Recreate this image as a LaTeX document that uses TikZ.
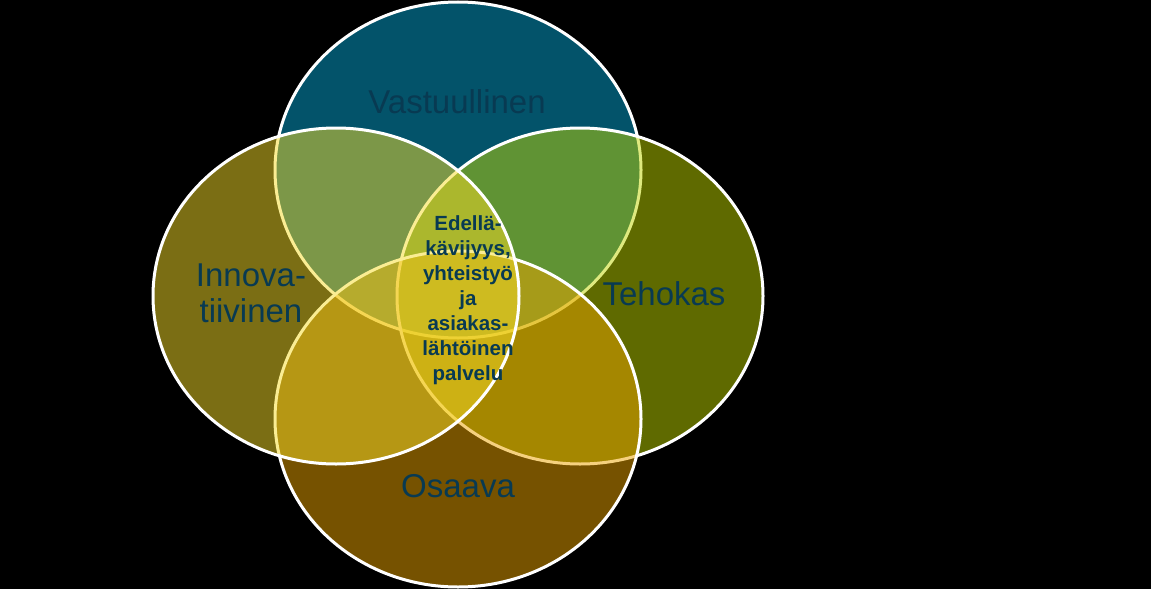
\documentclass[tikz,border=0pt]{standalone}
\usepackage{fontspec}
\setmainfont{Liberation Sans}
\usetikzlibrary{positioning,shapes.geometric}

\definecolor{topblue}{RGB}{6,166,212}
\definecolor{rightgreen}{RGB}{190,212,0}
\definecolor{bottomgold}{RGB}{236,164,0}
\definecolor{leftyellow}{RGB}{246,220,40}
\definecolor{txtblue}{RGB}{8,58,82}

\begin{document}
\begin{tikzpicture}[
    x=1pt, y=-1pt,
    ring/.style={ellipse, draw=white, line width=3pt, fill opacity=0.5, minimum width=366pt, minimum height=336pt, inner sep=0pt},
    word/.style={text=txtblue, font=\fontsize{33}{36}\selectfont, align=center, inner sep=0pt},
    core/.style={text=txtblue, font=\bfseries\fontsize{20.5}{25}\selectfont, align=center, inner sep=0pt}
]
% Background
\fill[black] (0,0) rectangle (1151,589);
\useasboundingbox (0,0) rectangle (1151,589);

% Rings (drawing order matters for the overlaps)
\node[ring, fill=topblue] (vast) at (458,170) {};
\node[ring, fill=rightgreen] (teho) at (580,296) {};
\node[ring, fill=bottomgold] (osaa) at (458,419) {};
\node[ring, fill=leftyellow] (inno) at (336,296) {};

% Labels
\node[word, anchor=base] (vasttxt) at (457,113) {Vastuullinen};
\node[word, anchor=base] (tehotxt) at (664,305) {Tehokas};
\node[word, anchor=base] (osaatxt) at (458,497) {Osaava};
\node[word] (innotxt) at (251,293) {Innova-\\tiivinen};

% Centre
\node[core] (ydin) at (468,300) {Edellä-\\kävijyys,\\yhteistyö\\ja\\asiakas-\\lähtöinen\\palvelu};
\end{tikzpicture}
\end{document}
